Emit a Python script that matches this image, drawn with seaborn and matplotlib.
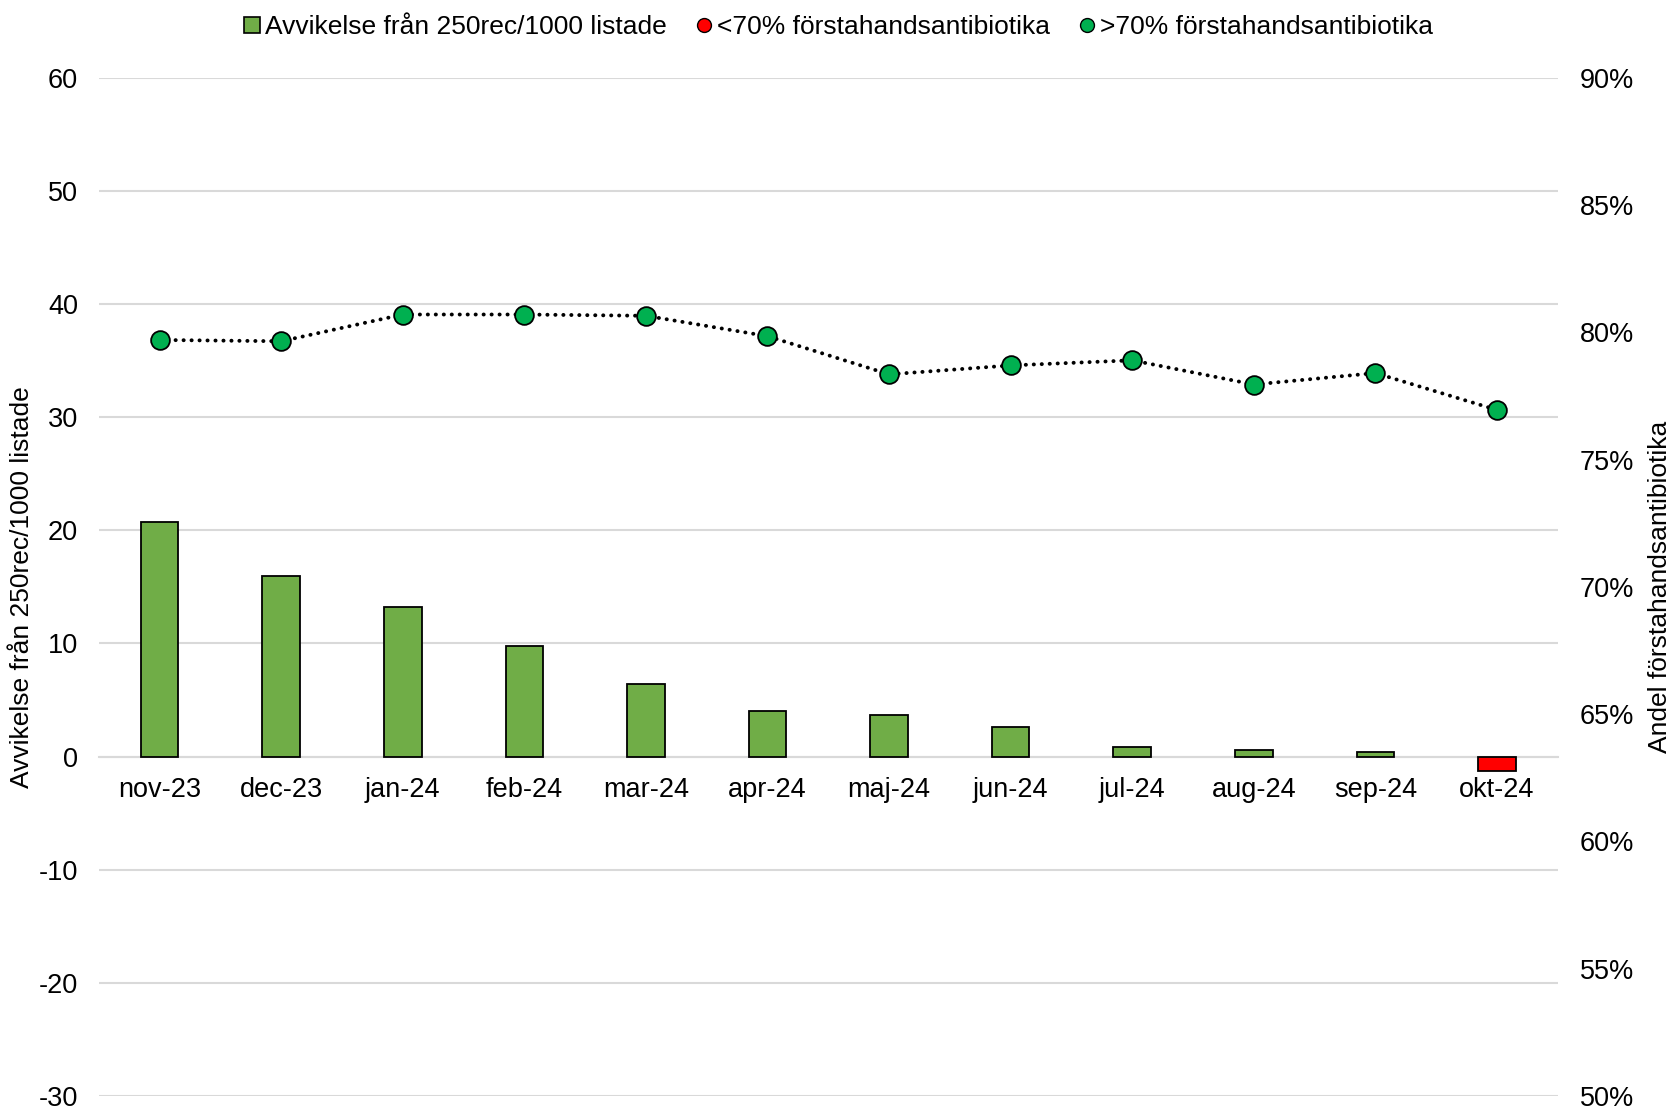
import matplotlib
matplotlib.use("Agg")
import matplotlib.pyplot as plt
from matplotlib.lines import Line2D
import seaborn as sns
import pandas as pd

sns.set_theme(style="white")
plt.rcParams['font.family'] = ['Liberation Sans', 'DejaVu Sans']
plt.rcParams['text.color'] = 'black'
plt.rcParams['axes.labelcolor'] = 'black'
plt.rcParams['xtick.color'] = 'black'
plt.rcParams['ytick.color'] = 'black'

# data
months = ["nov-23", "dec-23", "jan-24", "feb-24", "mar-24", "apr-24",
          "maj-24", "jun-24", "jul-24", "aug-24", "sep-24", "okt-24"]
deviation = [20.7, 16.0, 13.2, 9.8, 6.4, 4.0, 3.7, 2.6, 0.85, 0.6, 0.4, -1.3]
share_first_line = [79.7, 79.65, 80.7, 80.7, 80.65, 79.85, 78.35, 78.7, 78.9, 77.95, 78.4, 76.95]

left_ticks = [-30, -20, -10, 0, 10, 20, 30, 40, 50, 60]
right_ticks = [50, 55, 60, 65, 70, 75, 80, 85, 90]

BAR_GREEN = "#70AD47"
BAR_RED = "#FF0000"
DOT_GREEN = "#00B050"
GRID = "#D9D9D9"
TICK_FS = 19.5
LABEL_FS = 19
LEGEND_FS = 19

df = pd.DataFrame({"month": months, "dev": deviation, "share": share_first_line})
df["x"] = range(len(df))
bar_colors = [BAR_GREEN if v >= 0 else BAR_RED for v in deviation]

fig = plt.figure(figsize=(16.75, 11.11), dpi=100)
ax = fig.add_axes([0.059, 0.0135, 0.871, 0.9165])

sns.barplot(data=df, x="month", y="dev", hue="month", palette=bar_colors,
            legend=False, width=0.31, edgecolor="black", linewidth=1.3,
            saturation=1, ax=ax, zorder=3)

ax.set_ylim(-30, 60)
ax.set_xlim(-0.5, len(months) - 0.5)
ax.set_yticks(left_ticks)
ax.set_yticklabels([str(t) for t in left_ticks], fontsize=TICK_FS)
ax.yaxis.grid(True, color=GRID, linewidth=1.5, zorder=0)
ax.set_axisbelow(True)
for s in ["top", "right", "left"]:
    ax.spines[s].set_visible(False)
ax.spines["bottom"].set_position(("data", 0))
ax.spines["bottom"].set_color(GRID)
ax.spines["bottom"].set_linewidth(1.5)
ax.spines["bottom"].set_zorder(2)
ax.tick_params(axis="both", length=0)
ax.tick_params(axis="y", pad=15)
ax.tick_params(axis="x", pad=15, labelsize=TICK_FS)
ax.set_xlabel("")
ax.set_ylabel("Avvikelse från 250rec/1000 listade", fontsize=LABEL_FS, va="center")
ax.yaxis.set_label_coords(-0.053, 0.5)

ax2 = ax.twinx()
sns.lineplot(data=df, x="x", y="share", ax=ax2, color="black",
             linestyle=(0, (0.05, 2.0)), linewidth=2.8, dash_capstyle="round",
             zorder=3)
ax2.plot(df["x"], df["share"], linestyle="none", marker="o", markersize=13.5,
         markerfacecolor=DOT_GREEN, markeredgecolor="black",
         markeredgewidth=1.3, zorder=4)
ax2.set_ylim(50, 90)
ax2.set_yticks(right_ticks)
ax2.set_yticklabels([f"{t}%" for t in right_ticks], fontsize=TICK_FS)
ax2.tick_params(axis="y", length=0, pad=16)
ax2.set_ylabel("Andel förstahandsantibiotika", fontsize=LABEL_FS, labelpad=10)
ax2.set_xlabel("")
for s in ax2.spines.values():
    s.set_visible(False)

handles = [
    Line2D([], [], linestyle="none", marker="s", markersize=12,
           markerfacecolor=BAR_GREEN, markeredgecolor="black", markeredgewidth=1.2),
    Line2D([], [], linestyle="none", marker="o", markersize=10,
           markerfacecolor=BAR_RED, markeredgecolor="black", markeredgewidth=1.0),
    Line2D([], [], linestyle="none", marker="o", markersize=10,
           markerfacecolor=DOT_GREEN, markeredgecolor="black", markeredgewidth=1.0),
]
labels = ["Avvikelse från 250rec/1000 listade",
          "<70% förstahandsantibiotika",
          ">70% förstahandsantibiotika"]
fig.legend(handles, labels, loc="upper center", bbox_to_anchor=(0.5, 1.008),
           ncol=3, frameon=False, fontsize=LEGEND_FS, handletextpad=0.1,
           columnspacing=1.0, handlelength=0.8)

fig.savefig("out.png", dpi=100)
